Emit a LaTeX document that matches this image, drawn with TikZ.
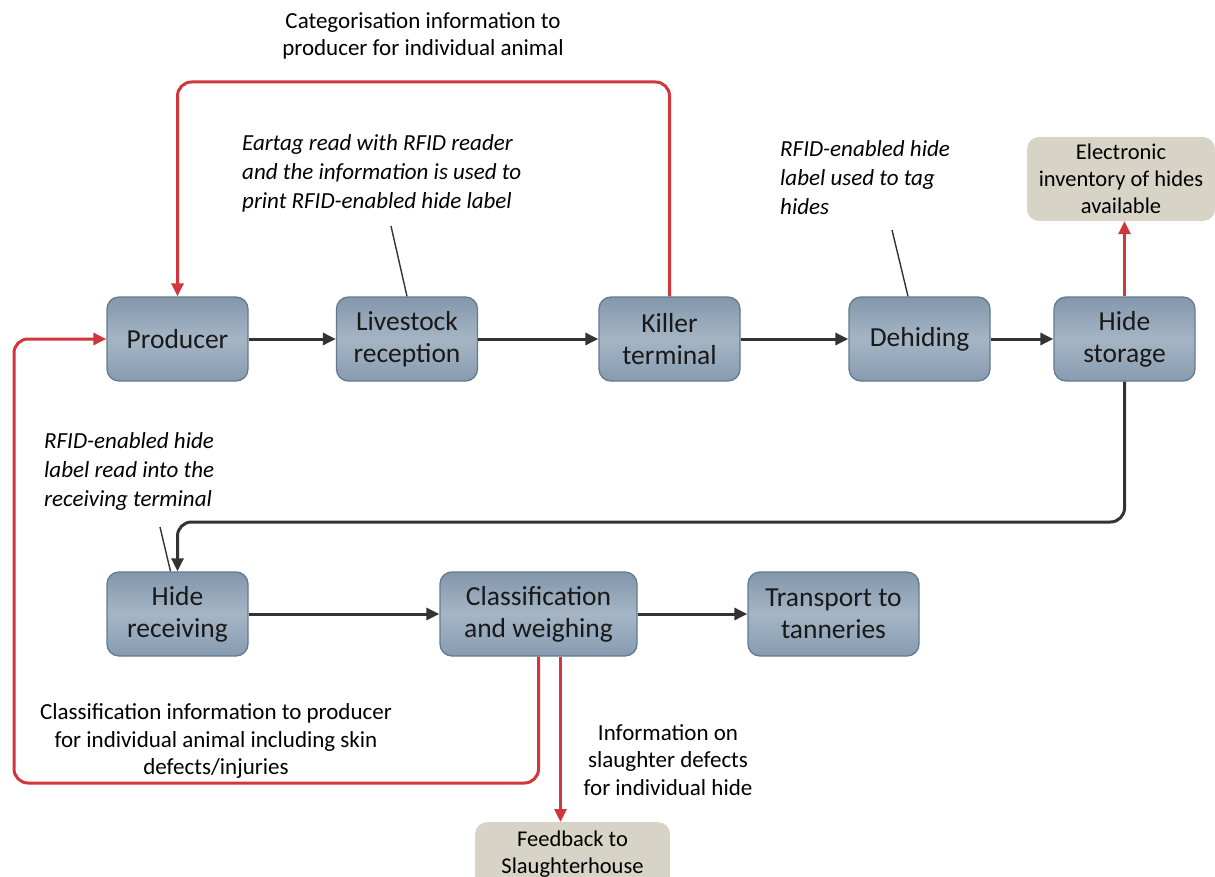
\documentclass[tikz,border=0pt]{standalone}
\usepackage{fontspec}
\setmainfont{Carlito}
\usetikzlibrary{arrows.meta}
\definecolor{boxtop}{HTML}{8397AC}
\definecolor{boxmid}{HTML}{A5B5C5}
\definecolor{boxbot}{HTML}{879BB0}
\definecolor{boxline}{HTML}{637A90}
\definecolor{tanfill}{HTML}{D7D4C7}
\definecolor{redline}{HTML}{D0363C}
\definecolor{darkline}{HTML}{333333}
\tikzset{
  box/.style={draw=boxline, line width=1.3pt, rounded corners=12pt,
    top color=boxtop, bottom color=boxbot, middle color=boxmid,
    minimum width=141pt, minimum height=84pt, align=center, inner sep=2pt,
    font=\fontsize{27.5}{32}\selectfont, text=black!90},
  tanbox/.style={fill=tanfill, rounded corners=12pt, minimum height=84pt,
    align=center, inner sep=2pt, font=\fontsize{22.5}{27}\selectfont},
  anno/.style={align=left, inner sep=0pt, font=\fontsize{23}{29}\selectfont\itshape},
  info/.style={align=center, inner sep=0pt, font=\fontsize{23}{27.5}\selectfont},
  blackarrow/.style={draw=darkline, line width=3pt, -{Triangle[length=13pt,width=12pt]}},
  redarrow/.style={draw=redline, line width=3pt, -{Triangle[length=13pt,width=12pt]}},
  pointer/.style={draw=darkline, line width=1.4pt},
}
\begin{document}
\begin{tikzpicture}[x=1pt,y=-1pt]
\useasboundingbox (0,0) rectangle (1215,877);
\clip (0,0) rectangle (1215,877);
% main nodes
\node[box] (prod) at (177.5,339) {Producer};
\node[box] (ls) at (407,339) {Livestock\\reception};
\node[box] (kill) at (669.5,339) {Killer\\terminal};
\node[box] (dh) at (919.5,339) {Dehiding};
\node[box] (hs) at (1124.5,339) {Hide\\storage};
\node[tanbox, minimum width=188pt] (inv) at (1121,179) {Electronic\\inventory of hides\\available};
\node[box] (hr) at (177.5,614) {Hide\\receiving};
\node[box, minimum width=197pt] (cls) at (538.5,614) {Classification\\and weighing};
\node[box, minimum width=171pt] (tr) at (833.5,614) {Transport to\\tanneries};
\node[tanbox, minimum width=195pt, anchor=north] (fb) at (572.5,822) {Feedback to\\Slaughterhouse\\[-2pt]};
% texts
\node[info] (cat) at (423,36) {Categorisation information to\\producer for individual animal};
\node[anno, anchor=west] (ann1) at (242,173) {Eartag read with RFID reader\\and the information is used to\\print RFID-enabled hide label};
\node[anno, anchor=west] (ann2) at (780,178) {RFID-enabled hide\\label used to tag\\hides};
\node[anno, anchor=west] (ann3) at (44,471) {RFID-enabled hide\\label read into the\\receiving terminal};
\node[info] (clsinfo) at (216,741) {Classification information to producer\\for individual animal including skin\\defects/injuries};
\node[info] (slinfo) at (668,760) {Information on\\slaughter defects\\for individual hide};
% helper coordinates
\coordinate (topy) at (0,82);
\coordinate (lb) at (14,783);
\coordinate (midy) at (0,522);
\coordinate (p1) at (391,226);
\coordinate (p2) at (892,230);
\coordinate (p3) at (160,527);
% main flow
\draw[blackarrow] (prod.east) -- (ls.west);
\draw[blackarrow] (ls.east) -- (kill.west);
\draw[blackarrow] (kill.east) -- (dh.west);
\draw[blackarrow] (dh.east) -- (hs.west);
\draw[blackarrow] (hr.east) -- (cls.west);
\draw[blackarrow] (cls.east) -- (tr.west);
\draw[blackarrow, rounded corners=14pt] (hs.south) -- (hs.south |- midy) -- (hr.north |- midy) -- (hr.north);
% red feedback
\draw[redarrow, rounded corners=14pt] (kill.north) -- (kill.north |- topy) -- (prod.north |- topy) -- (prod.north);
\draw[redarrow, rounded corners=14pt] (cls.south) -- (cls.south |- lb) -- (lb) -- (lb |- prod.west) -- (prod.west);
\draw[redarrow] ([xshift=22pt]cls.south) -- ([xshift=22pt]cls.south |- fb.north);
\draw[redarrow] (hs.north) -- (hs.north |- inv.south);
% pointers
\draw[pointer] (p1) -- (ls.north);
\draw[pointer] (p2) -- ([xshift=-11.5pt]dh.north);
\draw[pointer] (p3) -- ([xshift=-7pt]hr.north);
\end{tikzpicture}
\end{document}
